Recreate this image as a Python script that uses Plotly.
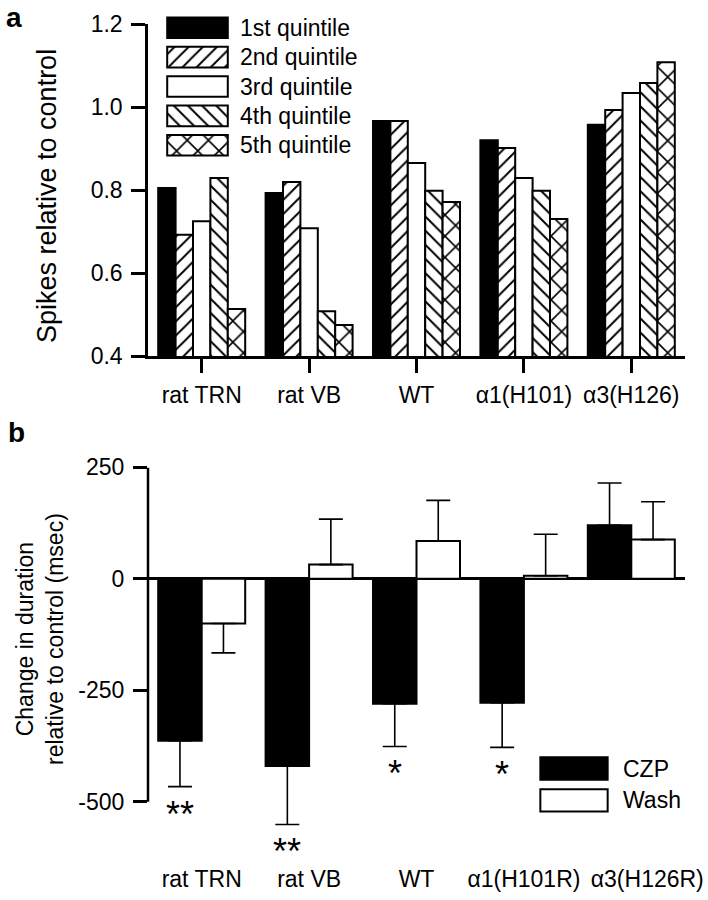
import plotly.graph_objects as go

W, H = 708, 900
FONT = "Liberation Sans, Arial, Helvetica, sans-serif"
FS = 23

# ---------------- data: panel a ----------------
groups_a = ["rat TRN", "rat VB", "WT", "α1(H101)", "α3(H126)"]
quintiles = ["1st quintile", "2nd quintile", "3rd quintile", "4th quintile", "5th quintile"]
q1 = [0.805, 0.793, 0.966, 0.920, 0.957]
q2 = [0.692, 0.819, 0.966, 0.901, 0.993]
q3 = [0.725, 0.708, 0.865, 0.829, 1.034]
q4 = [0.829, 0.508, 0.798, 0.798, 1.058]
q5 = [0.513, 0.475, 0.771, 0.730, 1.108]
yticks_a = [0.4, 0.6, 0.8, 1.0, 1.2]

# ---------------- data: panel b ----------------
groups_b = ["rat TRN", "rat VB", "WT", "α1(H101R)", "α3(H126R)"]
czp = [-363, -420, -280, -278, 120]
czp_err = [103, 131, 96, 100, 95]
wash = [-100, 32, 85, 7, 88]
wash_err = [66, 102, 91, 93, 85]
stars = ["**", "**", "*", "*", ""]
conditions = ["CZP", "Wash"]
yticks_b = [-500, -250, 0, 250]

# ---------------- styles ----------------
q_fill = ["black", "white", "white", "white", "white"]
q_shape = ["", "/", "", "\\", "x"]
q_psize = [10, 10, 10, 10, 15]
cond_fill = ["black", "white"]
BARGAP = 0.19
NB = "\u00a0"


def px_x(p):
    return p / W


def px_y(p):
    return 1 - p / H


def make_marker(fill, shape, size=10):
    m = dict(color=fill, line=dict(color="black", width=2))
    if shape:
        m["pattern"] = dict(shape=shape, fgcolor="black", bgcolor="white", size=size,
                            solidity=0.2, fillmode="replace")
    return m


fig = go.Figure()

# panel a bars
for name, vals, fill, shape, ps in zip(quintiles, [q1, q2, q3, q4, q5], q_fill, q_shape, q_psize):
    fig.add_trace(go.Bar(x=groups_a, y=vals, name=name, marker=make_marker(fill, shape, ps),
                         xaxis="x", yaxis="y", showlegend=False))

# panel b bars
for name, vals, errs, fill in zip(conditions, [czp, wash], [czp_err, wash_err], cond_fill):
    up = [e if v >= 0 else 0 for v, e in zip(vals, errs)]
    dn = [e if v < 0 else 0 for v, e in zip(vals, errs)]
    fig.add_trace(go.Bar(
        x=groups_b, y=vals, name=name, xaxis="x2", yaxis="y2", showlegend=False,
        marker=make_marker(fill, ""),
        error_y=dict(type="data", symmetric=False, array=up, arrayminus=dn,
                     color="black", thickness=1.6, width=12),
    ))

# legend swatches panel a (own small axes)
for name, fill, shape, ps in zip(quintiles, q_fill, q_shape, q_psize):
    fig.add_trace(go.Bar(
        y=[name], x=[1], orientation="h", width=0.7, offset=-0.35,
        xaxis="x3", yaxis="y3", showlegend=False, hoverinfo="skip",
        marker=make_marker(fill, shape, ps),
    ))
# legend swatches panel b
for name, fill in zip(conditions, cond_fill):
    fig.add_trace(go.Bar(
        y=[name], x=[1], orientation="h", width=0.70, offset=-0.35,
        xaxis="x4", yaxis="y4", showlegend=False, hoverinfo="skip",
        marker=make_marker(fill, ""),
    ))

axis_common = dict(showgrid=False, zeroline=False, linecolor="black",
                   tickcolor="black", tickfont=dict(size=FS, color="black", family=FONT))

# asterisks
annotations = []
off = (1 - BARGAP) / 4
for i, (s, v, e) in enumerate(zip(stars, czp, czp_err)):
    if s:
        annotations.append(dict(x=i - off, y=v - e, xref="x2", yref="y2", text=s,
                                showarrow=False, xanchor="center", yanchor="top",
                                yshift=-5,
                                font=dict(size=36, color="black", family=FONT)))

annotations += [
    dict(x=px_x(47), y=px_y(196), xref="paper", yref="paper",
         xanchor="center", yanchor="middle",
         text="Spikes relative to control", textangle=-90, showarrow=False,
         font=dict(size=27, color="black", family=FONT)),
    dict(x=px_x(40), y=px_y(639), xref="paper", yref="paper",
         xanchor="center", yanchor="middle",
         text="Change in duration<br>relative to control (msec)", textangle=-90,
         showarrow=False, font=dict(size=FS, color="black", family=FONT)),
    dict(x=px_x(14), y=1, xref="paper", yref="paper", text="<b>a</b>",
         xanchor="center", yanchor="top", showarrow=False,
         font=dict(size=28, color="black", family=FONT)),
    dict(x=px_x(16), y=px_y(432), xref="paper", yref="paper", text="<b>b</b>",
         xanchor="center", yanchor="middle", showarrow=False,
         font=dict(size=28, color="black", family=FONT)),
]

# panel b tick text: last label sits a little right of its group in the original
ticktext_b = list(groups_b)
ticktext_b[-1] = NB * 5 + ticktext_b[-1]

fig.update_layout(
    width=W, height=H, margin=dict(l=0, r=0, t=0, b=0, autoexpand=False),
    paper_bgcolor="white", plot_bgcolor="white",
    font=dict(family=FONT, color="black", size=FS),
    barmode="group", bargap=BARGAP, bargroupgap=0, showlegend=False,
    xaxis=dict(domain=[px_x(148), px_x(685)], anchor="y", type="category",
               range=[-0.5, 4.5], showline=True, linewidth=2.5, ticks="outside",
               ticklen=14, tickwidth=2.5, ticklabelstandoff=3, tickangle=0,
               tickmode="array", tickvals=groups_a, ticktext=groups_a, **axis_common),
    yaxis=dict(domain=[px_y(356), px_y(24)], anchor="x", range=[0.4, 1.2],
               tickvals=yticks_a, ticktext=[f"{t:.1f}" for t in yticks_a],
               showline=True, linewidth=2.5, ticks="outside", ticklen=14,
               tickwidth=2.5, ticklabelstandoff=4, **axis_common),
    xaxis2=dict(domain=[px_x(148), px_x(685)], anchor="y2", type="category",
                range=[-0.5, 4.5], showline=False, ticks="", ticklabelstandoff=34,
                tickangle=0, tickmode="array", tickvals=groups_b, ticktext=ticktext_b,
                **axis_common),
    yaxis2=dict(domain=[px_y(828.5), px_y(467.4)], anchor="x2", range=[-560, 250],
                tickvals=yticks_b, ticktext=[str(t) for t in yticks_b],
                showline=False, ticks="outside", ticklen=14, tickwidth=2.5,
                ticklabelstandoff=4,
                showgrid=False, zeroline=True, zerolinecolor="black", zerolinewidth=2.5,
                linecolor="black", tickcolor="black",
                tickfont=dict(size=FS, color="black", family=FONT)),
    xaxis3=dict(domain=[px_x(166), px_x(229)], anchor="y3", range=[-0.02, 1.02],
                visible=False),
    yaxis3=dict(domain=[px_y(160), px_y(13)], anchor="x3", type="category",
                autorange="reversed", side="right", ticks="", showline=False,
                tickmode="array", tickvals=quintiles, ticktext=quintiles,
                ticklabelstandoff=10, **axis_common),
    xaxis4=dict(domain=[px_x(539), px_x(609)], anchor="y4", range=[-0.02, 1.02],
                visible=False),
    yaxis4=dict(domain=[px_y(816.2), px_y(752.6)], anchor="x4", type="category",
                autorange="reversed", side="right", ticks="", showline=False,
                tickmode="array", tickvals=conditions, ticktext=conditions,
                ticklabelstandoff=13, **axis_common),
    annotations=annotations,
    shapes=[dict(type="line", xref="x2 domain", yref="y2", x0=0, x1=0,
                 y0=-500, y1=250, line=dict(color="black", width=2.5))],
)

fig.write_html("out.html", config={"displayModeBar": False},
               post_script="document.body.style.margin='0';"
                           "document.body.style.overflow='hidden';")
